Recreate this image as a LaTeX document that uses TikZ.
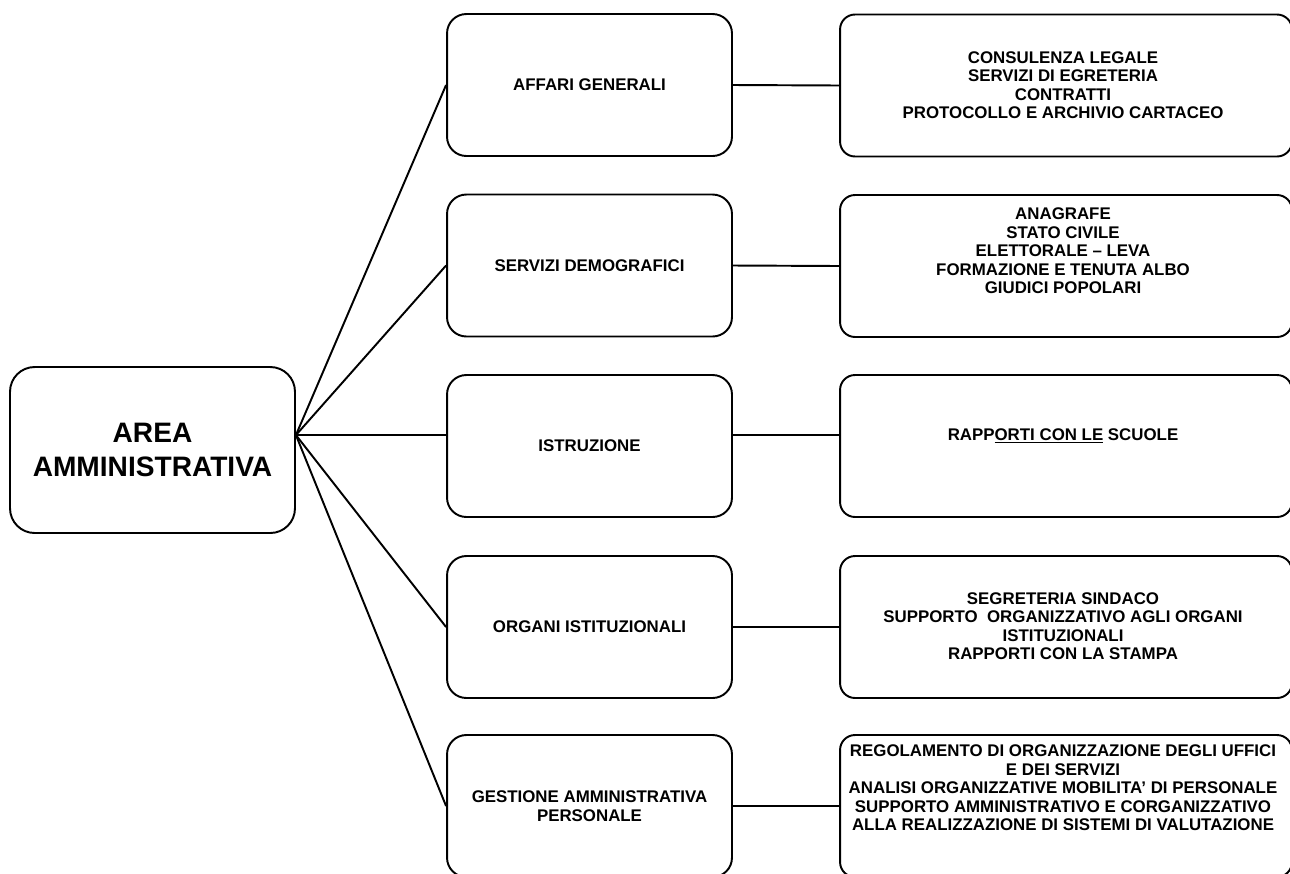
\documentclass[tikz,border=0pt]{standalone}
\usepackage{fontspec}
\setmainfont{Liberation Sans}

\begin{document}
\begin{tikzpicture}[x=0.02cm,y=-0.02cm,
  box/.style={draw,line width=1.1pt,fill=white,align=center,
    font=\bfseries\fontsize{9.6}{10.5}\selectfont},
  root/.style={box,rounded corners=14pt,minimum width=5.7cm,minimum height=3.32cm,
    font=\bfseries\fontsize{16}{19.8}\selectfont},
  mid/.style={box,rounded corners=11pt,minimum width=5.7cm,minimum height=2.84cm},
  task/.style={box,rounded corners=8.5pt,minimum width=9.04cm,minimum height=2.84cm},
  txt/.style={align=center,font=\bfseries\fontsize{9.6}{10.5}\selectfont},
  link/.style={line width=1.1pt}]

\useasboundingbox (0,0) rectangle (1290,873);

% root
\node[root] (root) at (152.5,450) {AREA\\AMMINISTRATIVA};
\coordinate (hub) at ([yshift=8.5pt]root.east);

% second column
\node[mid] (m1) at (589.5,85) {AFFARI GENERALI};
\node[mid] (m2) at (589.5,265.5) {SERVIZI DEMOGRAFICI};
\node[mid] (m3) at (589.5,446) {ISTRUZIONE};
\node[mid] (m4) at (589.5,627) {ORGANI ISTITUZIONALI};
\node[mid] (m5) at (589.5,806) {GESTIONE AMMINISTRATIVA\\PERSONALE};

% third column
\node[task] (r1) at (1066,85.5) {};
\node[task] (r2) at (1066,266) {};
\node[task] (r3) at (1066,446) {};
\node[task] (r4) at (1066,627) {};
\node[task] (r5) at (1066,806) {};

\node[txt] (t1) at (1063,85) {CONSULENZA LEGALE\\SERVIZI DI EGRETERIA\\CONTRATTI\\PROTOCOLLO E ARCHIVIO CARTACEO};
\node[txt] (t2) at (1063,251) {ANAGRAFE\\STATO CIVILE\\ELETTORALE – LEVA\\FORMAZIONE E TENUTA ALBO\\GIUDICI POPOLARI};
\node[txt] (t3) at (1063,436) {RAPP\underline{ORTI CON LE} SCUOLE};
\node[txt] (t4) at (1063,626) {SEGRETERIA SINDACO\\SUPPORTO\ \ ORGANIZZATIVO AGLI ORGANI\\ISTITUZIONALI\\RAPPORTI CON LA STAMPA};
\node[txt] (t5) at (1063,788) {REGOLAMENTO DI ORGANIZZAZIONE DEGLI UFFICI\\E DEI SERVIZI\\ANALISI ORGANIZZATIVE MOBILITA’ DI PERSONALE\\SUPPORTO AMMINISTRATIVO E CORGANIZZATIVO\\ALLA REALIZZAZIONE DI SISTEMI DI VALUTAZIONE};

% connectors
\foreach \m in {m1,m2,m4,m5}{
  \draw[link] (hub) -- (\m.west);
}
\draw[link] (hub) -- (hub -| m3.west);
\draw[link] (hub -| m3.east) -- (hub -| r3.west);
\foreach \i in {1,2,4,5}{
  \draw[link] (m\i.east) -- (r\i.west);
}

\end{tikzpicture}
\end{document}
